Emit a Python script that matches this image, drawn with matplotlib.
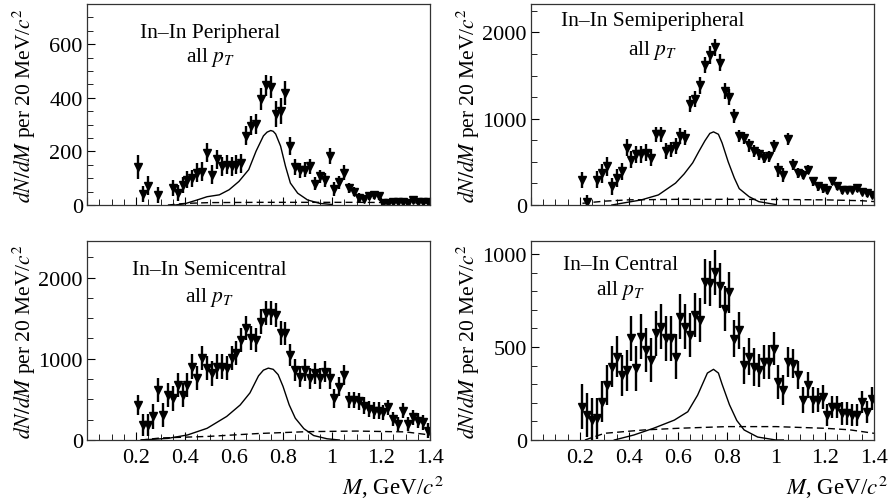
import numpy as np
import matplotlib
matplotlib.use("Agg")
import matplotlib.pyplot as plt
from matplotlib.ticker import MultipleLocator

plt.rcParams['font.family'] = ['Liberation Serif', 'DejaVu Serif']
plt.rcParams['mathtext.fontset'] = 'stix'

nan = np.nan

# bin centres, 20 MeV bins
mass = [0.21, 0.23, 0.25, 0.27, 0.29, 0.31, 0.33, 0.35, 0.37, 0.39,
        0.41, 0.43, 0.45, 0.47, 0.49, 0.51, 0.53, 0.55, 0.57, 0.59,
        0.61, 0.63, 0.65, 0.67, 0.69, 0.71, 0.73, 0.75, 0.77, 0.79,
        0.81, 0.83, 0.85, 0.87, 0.89, 0.91, 0.93, 0.95, 0.97, 0.99,
        1.01, 1.03, 1.05, 1.07, 1.09, 1.11, 1.13, 1.15, 1.17, 1.19,
        1.21, 1.23, 1.25, 1.27, 1.29, 1.31, 1.33, 1.35, 1.37, 1.39]

# --- In-In Peripheral
peri = [142, 40, 72, nan, 38, nan, nan, 63, 45, 75,
        94, 100, 120, 125, 195, 113, 170, 145, 150, 145,
        150, 155, 258, 296, 302, 396, 446, 440, 340, 352,
        418, 220, 142, 130, 132, 145, 80, 107, 94, 182,
        60, 85, 120, 63, 50, 28, 22, 32, 38, 35,
        6, 8, 12, 12, 10, 6, 18, 12, 12, 12]
peri_err = [45, 30, 35, 0, 30, 0, 0, 30, 30, 30,
            32, 32, 35, 35, 35, 35, 35, 35, 35, 35,
            35, 35, 35, 35, 38, 40, 40, 40, 48, 48,
            45, 35, 30, 28, 28, 28, 25, 25, 25, 30,
            25, 25, 28, 20, 18, 15, 15, 15, 15, 15,
            8, 8, 10, 10, 10, 8, 10, 10, 10, 10]
peri_fit_x = [0.36, 0.40, 0.45, 0.49, 0.54, 0.58, 0.62, 0.66, 0.69, 0.72,
              0.735, 0.75, 0.76, 0.77, 0.79, 0.81, 0.83, 0.86, 0.90, 0.95, 1.00]
peri_fit = [0, 5, 19, 31, 38, 57, 88, 132, 201, 258,
            272, 278, 275, 265, 220, 145, 82, 44, 19, 6, 2]
peri_bg_x = [0.33, 0.40, 0.50, 0.70, 0.90, 1.10, 1.30, 1.40]
peri_bg = [0, 6, 9, 10, 10, 10, 9, 7]

# --- In-In Semiperipheral
speri = [293, 39, nan, 293, 371, 449, 215, 313, 390, 664,
         527, 586, 586, 606, 547, 820, 820, 625, 645, 684,
         800, 781, 1172, 1230, 1386, 1621, 1738, 1830, 1650, 1320,
         1250, 1035, 800, 781, 690, 625, 586, 547, 566, 683,
         410, 352, 762, 469, 371, 352, 410, 273, 215, 195,
         176, 273, 215, 176, 176, 176, 195, 156, 137, 117]
speri_err = [90, 80, 0, 100, 110, 110, 100, 100, 100, 100,
             100, 100, 100, 100, 100, 90, 90, 90, 90, 90,
             90, 90, 90, 90, 95, 95, 100, 100, 100, 90,
             90, 80, 70, 70, 70, 65, 65, 65, 65, 70,
             80, 80, 70, 60, 55, 55, 55, 50, 50, 50,
             45, 45, 45, 45, 40, 40, 40, 40, 40, 40]
speri_fit_x = [0.33, 0.37, 0.45, 0.52, 0.59, 0.625, 0.66, 0.685, 0.71, 0.73,
               0.745, 0.765, 0.78, 0.805, 0.83, 0.85, 0.89, 0.93, 1.00]
speri_fit = [0, 20, 59, 117, 254, 360, 489, 620, 745, 830,
             848, 820, 720, 500, 313, 190, 97, 39, 5]
speri_bg_x = [0.21, 0.30, 0.40, 0.60, 0.80, 1.00, 1.20, 1.35, 1.40]
speri_bg = [20, 45, 60, 66, 66, 64, 60, 50, 40]

# --- In-In Semicentral
scen = [431, 185, 185, 290, 616, 308, 554, 513, 678, 554,
        678, 903, 760, 1006, 883, 821, 903, 903, 883, 1006,
        1068, 1232, 1376, 1253, 1232, 1458, 1560, 1560, 1540, 1314,
        1314, 1047, 862, 780, 862, 760, 821, 760, 842, 760,
        513, 657, 800, 496, 496, 475, 424, 382, 362, 362,
        341, 403, 258, 196, 362, 196, 279, 237, 217, 114]
scen_err = [120, 130, 130, 150, 150, 150, 150, 150, 150, 150,
            150, 150, 150, 150, 150, 150, 150, 150, 150, 150,
            150, 150, 150, 150, 150, 150, 150, 150, 150, 150,
            140, 130, 130, 130, 130, 130, 130, 130, 130, 130,
            120, 120, 120, 100, 100, 100, 100, 100, 100, 100,
            90, 90, 90, 90, 90, 90, 90, 90, 90, 90]
scen_fit_x = [0.22, 0.33, 0.41, 0.49, 0.57, 0.625, 0.665, 0.70, 0.72, 0.74,
              0.76, 0.78, 0.80, 0.825, 0.85, 0.885, 0.925, 0.98, 1.03]
scen_fit = [0, 20, 62, 144, 290, 431, 580, 790, 860, 885,
            870, 805, 660, 434, 269, 140, 55, 15, 0]
scen_bg_x = [0.22, 0.30, 0.50, 0.70, 0.90, 1.10, 1.30, 1.40]
scen_bg = [0, 25, 45, 80, 103, 110, 100, 62]

# --- In-In Central
cen = [179, 134, 108, 116, 206, 296, 394, 448, 349, 376,
       547, 385, 556, 484, 430, 573, 609, 547, 547, 448,
       663, 609, 565, 672, 645, 851, 842, 902, 830, 706,
       795, 545, 589, 402, 447, 393, 375, 420, 420, 491,
       313, 268, 420, 411, 348, 214, 295, 214, 214, 232,
       134, 179, 179, 143, 143, 134, 134, 206, 152, 223]
cen_err = [120, 120, 120, 110, 110, 110, 110, 110, 110, 110,
           120, 120, 120, 120, 120, 120, 120, 120, 120, 120,
           120, 120, 120, 120, 120, 120, 120, 120, 120, 120,
           110, 100, 100, 100, 100, 100, 90, 90, 90, 90,
           90, 80, 80, 80, 75, 70, 70, 70, 65, 65,
           60, 60, 60, 60, 60, 60, 60, 60, 60, 60]
cen_fit_x = [0.34, 0.42, 0.50, 0.585, 0.64, 0.68, 0.72, 0.745, 0.765, 0.78,
             0.81, 0.84, 0.87, 0.925, 1.00, 1.03]
cen_fit = [0, 27, 63, 107, 152, 241, 360, 380, 360, 300,
           190, 105, 54, 16, 0, 0]
cen_bg_x = [0.22, 0.30, 0.46, 0.60, 0.80, 1.00, 1.20, 1.30, 1.40]
cen_bg = [0, 36, 54, 63, 72, 72, 63, 55, 36]

panels = [
    # data, err, fit x, fit, bg x, bg, ymax, major, minor, title, text pos, show x labels
    (peri, peri_err, peri_fit_x, peri_fit, peri_bg_x, peri_bg, 750, 200, 50,
     'In–In Peripheral', (0.36, 0.86, 0.74), False),
    (speri, speri_err, speri_fit_x, speri_fit, speri_bg_x, speri_bg, 2330, 1000, 250,
     'In–In Semiperipheral', (0.354, 0.92, 0.776), False),
    (scen, scen_err, scen_fit_x, scen_fit, scen_bg_x, scen_bg, 2450, 1000, 250,
     'In–In Semicentral', (0.357, 0.857, 0.72), True),
    (cen, cen_err, cen_fit_x, cen_fit, cen_bg_x, cen_bg, 1070, 500, 100,
     'In–In Central', (0.262, 0.884, 0.754), True),
]

fig = plt.figure(figsize=(8.89, 5.02), dpi=100)
rects = [[0.0979, 0.5896, 0.3858, 0.4004],
         [0.5973, 0.5896, 0.3858, 0.4004],
         [0.0979, 0.1215, 0.3858, 0.3964],
         [0.5973, 0.1215, 0.3858, 0.3964]]

for rect, p in zip(rects, panels):
    data, err, fx, fy, bx, by, ymax, major, minor, title, tpos, xlab = p
    ax = fig.add_axes(rect)
    ax.errorbar(mass, data, yerr=err, xerr=0.006, fmt='v', color='black',
                ms=5.5, elinewidth=1.7, capsize=0)
    ax.plot(fx, fy, color='black', lw=1.0)
    ax.plot(bx, by, color='black', lw=1.0, ls=(0, (5, 3)))
    ax.set_xlim(0, 1.4)
    ax.set_ylim(0, ymax)
    ax.xaxis.set_major_locator(MultipleLocator(0.2))
    ax.xaxis.set_minor_locator(MultipleLocator(0.05))
    ax.yaxis.set_major_locator(MultipleLocator(major))
    ax.yaxis.set_minor_locator(MultipleLocator(minor))
    ax.tick_params(which='both', direction='in', top=False, right=False,
                   labelsize=16)
    ax.tick_params(which='major', length=6)
    ax.tick_params(which='minor', length=4)
    ax.tick_params(axis='y', pad=3)
    ax.tick_params(axis='x', pad=6)
    if xlab:
        ax.set_xticks([0.2, 0.4, 0.6, 0.8, 1.0, 1.2, 1.4])
        ax.set_xticklabels(['0.2', '0.4', '0.6', '0.8', '1', '1.2', '1.4'])
        ax.text(1.04, -0.235, r'$M$, GeV/$c^2$', transform=ax.transAxes,
                ha='right', va='center', fontsize=16.5)
    else:
        ax.set_xticklabels([])
    for s in ax.spines.values():
        s.set_color('#333333')
        s.set_linewidth(0.9)
    ax.set_ylabel(r'$dN/dM$ per 20 MeV/$c^2$', fontsize=15.5)
    ax.yaxis.set_label_coords(-0.142, 0.5)
    ax.text(tpos[0], tpos[1], title, transform=ax.transAxes,
            ha='center', va='center', fontsize=15.5)
    ax.text(tpos[0], tpos[2], r'all $p_T$', transform=ax.transAxes,
            ha='center', va='center', fontsize=15.5)

fig.savefig('out.png', dpi=100)
